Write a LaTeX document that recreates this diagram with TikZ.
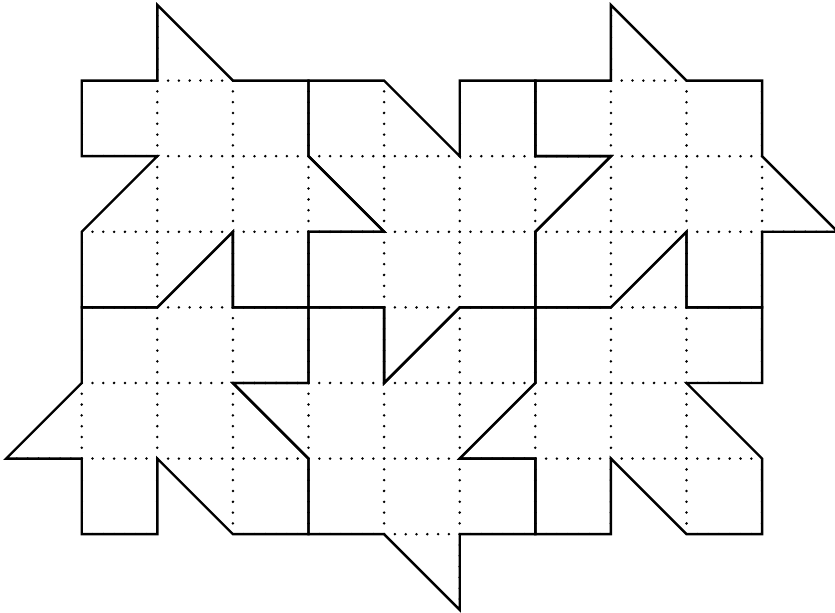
\documentclass[tikz,border=0pt]{standalone}
\usepackage{tikz}

\begin{document}
\begin{tikzpicture}[x=1cm, y=-1cm, line join=miter,
  tile/.style={line width=0.9pt},
  gridline/.style={line width=1.05pt, line cap=round, dash pattern=on 0pt off 4.0647pt}]
  \useasboundingbox (-1.081,-0.066) rectangle (9.964,8.042);
  % dotted unit grid, only inside the patch
  \begin{scope}
    \clip (0,1) -- (1,1) -- (1,0) -- (2,1) -- (3,1) -- (4,1) -- (5,2) -- (5,1) -- (6,1) -- (7,1) -- (7,0) -- (8,1) -- (9,1) -- (9,2) -- (10,3) -- (9,3) -- (9,4) -- (9,5) -- (8,5) -- (9,6) -- (9,7) -- (8,7) -- (7,6) -- (7,7) -- (6,7) -- (5,7) -- (5,8) -- (4,7) -- (3,7) -- (2,7) -- (1,6) -- (1,7) -- (0,7) -- (0,6) -- (-1,6) -- (0,5) -- (0,4) -- (0,3) -- (1,2) -- (0,2) -- cycle;
    \foreach \i in {-1,...,10} \draw[gridline] (\i,0) -- (\i,8);
    \foreach \j in {0,...,8} \draw[gridline] (-1,\j) -- (10,\j);
  \end{scope}
  % top row of tiles
  \draw[tile] (0,1) -- (1,1) -- (1,0) -- (2,1) -- (3,1) -- (3,2) -- (4,3) -- (3,3) -- (3,4) -- (2,4) -- (2,3) -- (1,4) -- (0,4) -- (0,3) -- (1,2) -- (0,2) -- cycle;
  \draw[tile] (3,1) -- (4,1) -- (5,2) -- (5,1) -- (6,1) -- (6,2) -- (7,2) -- (6,3) -- (6,4) -- (5,4) -- (4,5) -- (4,4) -- (3,4) -- (3,3) -- (4,3) -- (3,2) -- cycle;
  \draw[tile] (6,1) -- (7,1) -- (7,0) -- (8,1) -- (9,1) -- (9,2) -- (10,3) -- (9,3) -- (9,4) -- (8,4) -- (8,3) -- (7,4) -- (6,4) -- (6,3) -- (7,2) -- (6,2) -- cycle;
  % bottom row of tiles
  \draw[tile] (0,4) -- (1,4) -- (2,3) -- (2,4) -- (3,4) -- (3,5) -- (2,5) -- (3,6) -- (3,7) -- (2,7) -- (1,6) -- (1,7) -- (0,7) -- (0,6) -- (-1,6) -- (0,5) -- cycle;
  \draw[tile] (3,4) -- (4,4) -- (4,5) -- (5,4) -- (6,4) -- (6,5) -- (5,6) -- (6,6) -- (6,7) -- (5,7) -- (5,8) -- (4,7) -- (3,7) -- (3,6) -- (2,5) -- (3,5) -- cycle;
  \draw[tile] (6,4) -- (7,4) -- (8,3) -- (8,4) -- (9,4) -- (9,5) -- (8,5) -- (9,6) -- (9,7) -- (8,7) -- (7,6) -- (7,7) -- (6,7) -- (6,6) -- (5,6) -- (6,5) -- cycle;
\end{tikzpicture}
\end{document}
